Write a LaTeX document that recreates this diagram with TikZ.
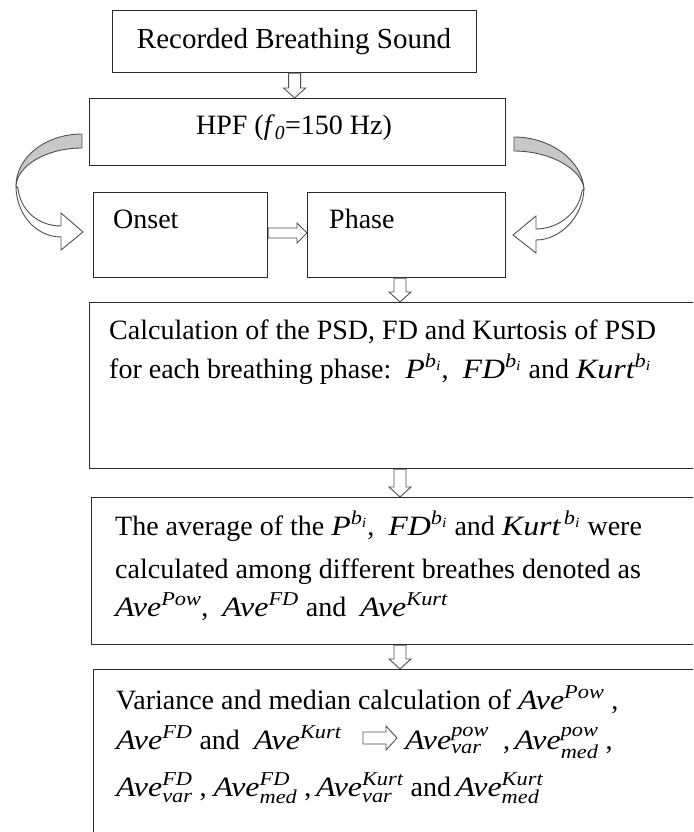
\documentclass[tikz,border=0pt]{standalone}
\usepackage{fontspec}
\usepackage{amsmath}
\setmainfont{Liberation Serif}
\newfontfamily\amfont[FakeStretch=1.14]{Liberation Serif}
\usetikzlibrary{calc}
\definecolor{edgec}{HTML}{2A2A2A}
\definecolor{ribbon}{HTML}{C8C8C8}
\definecolor{arrc}{HTML}{505050}
\newcommand{\mi}[1]{\text{\amfont\itshape #1}}
\newcommand{\downarr}[2]{\draw[hollow] let \p1=(#1), \p2=(#2) in
  (\x1-6pt,\y1) -- (\x1+6pt,\y1) -- (\x1+6pt,\y2+10pt) -- (\x1+11pt,\y2+10pt) --
  (\x1,\y2) -- (\x1-11pt,\y2+10pt) -- (\x1-6pt,\y2+10pt) -- cycle;}
\newcommand{\rightarr}[2]{\draw[hollow] let \p1=(#1), \p2=(#2) in
  (\x1,\y1+5pt) -- (\x2-10pt,\y1+5pt) -- (\x2-10pt,\y1+10pt) -- (\x2,\y1) --
  (\x2-10pt,\y1-10pt) -- (\x2-10pt,\y1-5pt) -- (\x1,\y1-5pt) -- cycle;}
\newcommand{\rightarrbig}[2]{\draw[hollow] let \p1=(#1), \p2=(#2) in
  (\x1,\y1+6pt) -- (\x2-11pt,\y1+6pt) -- (\x2-11pt,\y1+12pt) -- (\x2,\y1) --
  (\x2-11pt,\y1-12pt) -- (\x2-11pt,\y1-6pt) -- (\x1,\y1-6pt) -- cycle;}
\tikzset{
  box/.style={draw=edgec, line width=1.2pt, rectangle, inner sep=0pt, anchor=north west},
  txt/.style={anchor=base west, inner sep=0pt, font=\fontsize{28}{34}\selectfont},
  ctxt/.style={anchor=base, inner sep=0pt, font=\fontsize{28}{34}\selectfont},
  hollow/.style={draw=arrc, fill=white, line width=0.9pt, line join=miter},
  curvback/.style={draw=arrc, fill=ribbon, line width=0.9pt},
  curvfront/.style={draw=arrc, fill=white, line width=0.9pt},
}
\begin{document}
\begin{tikzpicture}[x=1pt, y=-1pt]
\useasboundingbox (0,0) rectangle (693,832);
\clip (0,0) rectangle (693,832);
\fill[white] (0,0) rectangle (693,832);

% boxes
\node[box, minimum width=364pt, minimum height=62pt] (top) at (112,10) {};
\node[box, minimum width=416pt, minimum height=67pt] (hpf) at (89,98) {};
\node[box, minimum width=174pt, minimum height=85pt] (onset) at (93,192) {};
\node[box, minimum width=198pt, minimum height=85pt] (phase) at (307,192) {};
\node[box, minimum width=650pt, minimum height=166pt] (calc) at (89,302) {};
\node[box, minimum width=650pt, minimum height=147pt] (avg) at (91,497) {};
\node[box, minimum width=650pt, minimum height=200pt] (var) at (93,669) {};

% texts
\node[ctxt, font=\fontsize{29}{34}\selectfont] (toptxt) at (294,49) {Recorded Breathing Sound};
\node[ctxt] (hpftxt) at (294,135) {HPF (\textit{f}\textsubscript{\textit{0}}=150 Hz)};
\node[txt] (onsettxt) at (113,228) {Onset};
\node[txt] (phasetxt) at (329,228) {Phase};

\node[txt] (c1) at (109,339) {Calculation of the PSD, FD and Kurtosis of PSD};
\node[txt] (c2) at (109,378) {for each breathing phase:\ \ $\mi{P}^{\mi{b}_{\mi{i}}}$,\ \ $\mi{FD}^{\mi{b}_{\mi{i}}}$\ and $\mi{Kurt}^{\mi{b}_{\mi{i}}}$};

\node[txt] (a1) at (115,535) {The average of the $\mi{P}^{\mi{b}_{\mi{i}}}$,\ \ $\mi{FD}^{\mi{b}_{\mi{i}}}$\ and $\mi{Kurt}^{\,\mi{b}_{\mi{i}}}$\ were};
\node[txt] (a2) at (115,578) {calculated among different breathes denoted as};
\node[txt] (a3) at (115,616) {$\mi{Ave}^{\mi{Pow}}$,\ \ $\mi{Ave}^{\mi{FD}}$ and\ \ $\mi{Ave}^{\mi{Kurt}}$};

\node[txt] (v1) at (116,709) {Variance and median calculation of $\mi{Ave}^{\mi{Pow}}$\ ,};
\node[txt] (v2a) at (116,749) {$\mi{Ave}^{\mi{FD}}$ and\ \ $\mi{Ave}^{\mi{Kurt}}$};
\node[txt] (v2b) at (405,749) {$\mi{Ave}^{\mi{pow}}_{\mi{var}}$\ \ ,\,$\mi{Ave}^{\mi{pow}}_{\mi{med}}$\ ,};
\node[txt] (v3) at (116,796) {$\mi{Ave}^{\mi{FD}}_{\mi{var}}$\ ,\ $\mi{Ave}^{\mi{FD}}_{\mi{med}}$\ ,\,$\mi{Ave}^{\mi{Kurt}}_{\mi{var}}$\ and\,$\mi{Ave}^{\mi{Kurt}}_{\mi{med}}$};

% straight hollow connectors
\coordinate (ax) at (400,0);
\coordinate (hy) at (0,233);
\downarr{top.south}{top.south |- hpf.north}
\downarr{ax |- phase.south}{ax |- calc.north}
\downarr{ax |- calc.south}{ax |- avg.north}
\downarr{ax |- avg.south}{ax |- var.north}
\rightarr{onset.east |- hy}{phase.west |- hy}
\coordinate (ia) at (363,738);
\coordinate (ib) at (397,738);
\rightarrbig{ia}{ib}

% curved arrows HPF -> Onset (left) and HPF -> Phase (right)
\begin{scope}
  \filldraw[curvback] (82,134) .. controls (46,134) and (16,157) .. (16,186)
    .. controls (17,166) and (46,148) .. (82,148) -- cycle;
  \filldraw[curvfront] (16,186) .. controls (16,214) and (36,237) .. (61,237)
    -- (61,250) -- (83,232) -- (61,213) -- (61,226)
    .. controls (38,226) and (20,210) .. (18,188) -- cycle;
\end{scope}
\begin{scope}[xshift=596pt, xscale=-1, yshift=-3pt]
  \filldraw[curvback] (82,134) .. controls (46,134) and (14,157) .. (12,186)
    .. controls (14,166) and (46,148) .. (82,148) -- cycle;
  \filldraw[curvfront] (12,186) .. controls (13,214) and (36,237) .. (60,237)
    -- (60,250) -- (83,232) -- (60,213) -- (60,226)
    .. controls (38,226) and (17,210) .. (14,188) -- cycle;
\end{scope}
\end{tikzpicture}
\end{document}
